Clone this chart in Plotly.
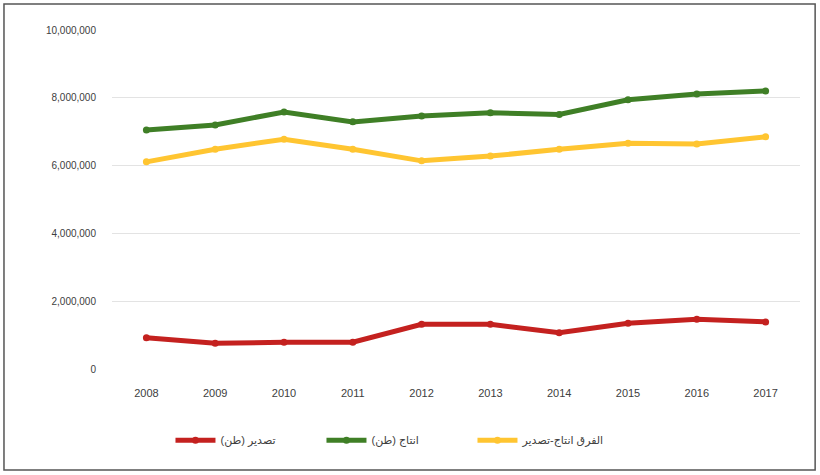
import plotly.graph_objects as go

years = [2008, 2009, 2010, 2011, 2012, 2013, 2014, 2015, 2016, 2017]

# tonnes
export_t = [920000, 760000, 790000, 790000, 1320000, 1320000, 1070000, 1350000, 1470000, 1390000]
production_t = [7050000, 7200000, 7580000, 7290000, 7460000, 7560000, 7510000, 7940000, 8110000, 8200000]
difference_t = [6110000, 6480000, 6780000, 6480000, 6140000, 6280000, 6480000, 6660000, 6640000, 6850000]

names = ["تصدير (طن)", "انتاج (طن)", "الفرق انتاج-تصدير"]
colors = ["#C4211F", "#3F7F26", "#FFC531"]
y_ticks = [0, 2000000, 4000000, 6000000, 8000000, 10000000]

fig = go.Figure()
for name, vals, col in zip(names, [export_t, production_t, difference_t], colors):
    fig.add_trace(go.Scatter(
        x=years, y=vals, name=name, mode="lines+markers",
        line=dict(color=col, width=5),
        marker=dict(color=col, size=7),
    ))

fig.update_layout(
    width=820, height=475,
    margin=dict(l=112, r=20, t=30, b=106),
    paper_bgcolor="white", plot_bgcolor="white",
    font=dict(family="Arial, DejaVu Sans", color="#595959", size=11),
    showlegend=True,
    legend=dict(orientation="h", x=0.085, xanchor="left", y=-0.21, yanchor="middle",
                font=dict(size=11, color="#404040"), itemwidth=40,
                entrywidth=96, entrywidthmode="pixels"),
)

fig.update_xaxes(
    tickmode="array", tickvals=years, ticktext=[str(y) for y in years],
    range=[2007.5, 2017.5], showgrid=False, zeroline=False, showline=False,
    tickfont=dict(size=11, color="#404040"), ticks="",
    ticklabelstandoff=16,
)
fig.update_yaxes(
    range=[0, 10000000], tickvals=y_ticks, tickformat=",d",
    showgrid=True, gridcolor="#E3E3E3", gridwidth=1, zeroline=False,
    showline=False, tickfont=dict(size=10, color="#404040"), ticks="",
    ticklabelstandoff=15,
)

# outer frame round the whole chart
fig.add_shape(type="rect", xref="paper", yref="paper",
              x0=-0.157, x1=1.022, y0=-0.298, y1=1.077,
              line=dict(color="#555555", width=1.5))

# drop the page's default body margin so the chart sits at 0,0
fig.write_html("out.html", config={"displayModeBar": False},
               post_script="document.body.style.margin='0';")
